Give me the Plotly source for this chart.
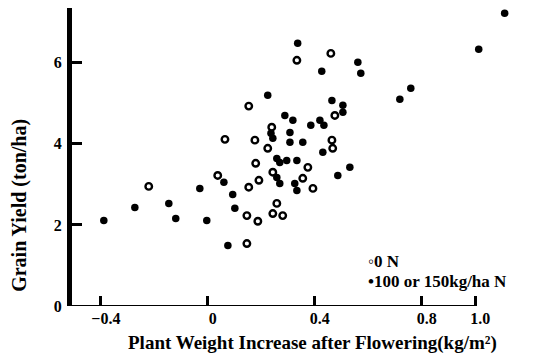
import plotly.graph_objects as go

# Plant weight increase after flowering (kg/m^2) and grain yield (ton/ha)
zero_n_x = [-0.221, 0.037, 0.153, 0.333, 0.460, 0.064, 0.176, 0.224, 0.239,
            0.464, 0.467, 0.475, 0.179, 0.374, 0.243, 0.355, 0.393, 0.191,
            0.153, 0.258, 0.146, 0.187, 0.243, 0.280, 0.146]
zero_n_y = [2.95, 3.22, 4.93, 6.06, 6.23, 4.11, 4.09, 3.89, 4.41,
            4.09, 3.89, 4.70, 3.52, 3.42, 3.30, 3.15, 2.90, 3.10,
            2.93, 2.53, 2.23, 2.09, 2.28, 2.23, 1.54]

high_n_x = [-0.389, -0.273, -0.146, -0.120, -0.030, -0.004, 0.060, 0.093,
            0.101, 0.075, 0.224, 0.336, 0.426, 0.561, 0.572, 0.288, 0.318,
            0.385, 0.419, 0.434, 0.464, 0.505, 0.505, 0.236, 0.243, 0.307,
            0.307, 0.355, 0.430, 0.258, 0.269, 0.295, 0.333, 0.531, 0.486,
            0.258, 0.269, 0.325, 0.333, 0.718, 0.759, 1.013, 1.110]
high_n_y = [2.11, 2.43, 2.53, 2.16, 2.90, 2.11, 3.05, 2.75,
            2.41, 1.49, 5.20, 6.48, 5.79, 6.01, 5.74, 4.70, 4.58,
            4.46, 4.58, 4.46, 5.07, 4.95, 4.78, 4.26, 4.14, 4.28,
            4.04, 4.04, 3.79, 3.64, 3.54, 3.59, 3.59, 3.42, 3.22,
            3.17, 3.02, 3.02, 2.85, 5.10, 5.37, 6.33, 7.22]

x_ticks = [-0.4, 0, 0.4, 0.8, 1.0]
x_tick_text = ["\u22120.4", "0", "0.4", "0.8", "1.0"]
y_ticks = [0, 2, 4, 6]
y_tick_text = ["0", "2", "4", "6"]

X_MIN, X_MAX = -0.508, 1.13
Y_MIN, Y_MAX = 0, 7.35
X_AXIS_END = 1.0

FONT = "Liberation Serif"

fig = go.Figure()
fig.add_trace(go.Scatter(
    x=zero_n_x, y=zero_n_y, mode="markers", name="0 N",
    marker=dict(symbol="circle-open", size=6.5, color="black",
                line=dict(width=2.4, color="black")),
    showlegend=False,
))
fig.add_trace(go.Scatter(
    x=high_n_x, y=high_n_y, mode="markers", name="100 or 150kg/ha N",
    marker=dict(symbol="circle", size=7.5, color="black",
                line=dict(width=0)),
    showlegend=False,
))

# horizontal axis line stops at the last tick
fig.add_shape(type="line", xref="x", yref="y",
              x0=X_MIN, x1=X_AXIS_END, y0=Y_MIN, y1=Y_MIN,
              line=dict(color="black", width=2))

tick_font = dict(family=FONT, size=16, color="black", weight="bold")

fig.update_layout(
    width=534, height=355,
    margin=dict(l=72, r=24, t=8, b=49),
    paper_bgcolor="white", plot_bgcolor="white",
    xaxis=dict(range=[X_MIN, X_MAX], tickvals=x_ticks, ticktext=x_tick_text,
               ticks="inside", ticklen=10, tickwidth=2.5, tickcolor="black",
               showline=False, showgrid=False, zeroline=False,
               tickfont=tick_font, ticklabelshift=5, ticklabelstandoff=1),
    yaxis=dict(range=[Y_MIN, Y_MAX], tickvals=y_ticks, ticktext=y_tick_text,
               ticks="inside", ticklen=10, tickwidth=2.5, tickcolor="black",
               showline=True, linewidth=5, linecolor="black",
               showgrid=False, zeroline=False,
               tickfont=tick_font, ticklabelstandoff=2),
    annotations=[
        dict(text="<b>Plant Weight Increase after Flowering(kg/m\u00b2)</b>",
             xref="paper", yref="paper", x=0.55, y=-0.124,
             xanchor="center", yanchor="middle", showarrow=False,
             font=dict(family=FONT, size=19, color="black")),
        dict(text="<b>Grain Yield (ton/ha)</b>",
             xref="paper", yref="paper", x=-0.119, y=0.339, textangle=-90,
             xanchor="center", yanchor="middle", showarrow=False,
             font=dict(family=FONT, size=20, color="black")),
        dict(text="<b>\u25e60 N</b>",
             xref="paper", yref="paper", x=0.671, y=0.148,
             xanchor="left", yanchor="middle", showarrow=False,
             font=dict(family=FONT, size=17, color="black")),
        dict(text="<b>\u2022100 or 150kg/ha N</b>",
             xref="paper", yref="paper", x=0.671, y=0.082,
             xanchor="left", yanchor="middle", showarrow=False,
             font=dict(family=FONT, size=17, color="black")),
    ],
)

fig.write_html("out.html")
